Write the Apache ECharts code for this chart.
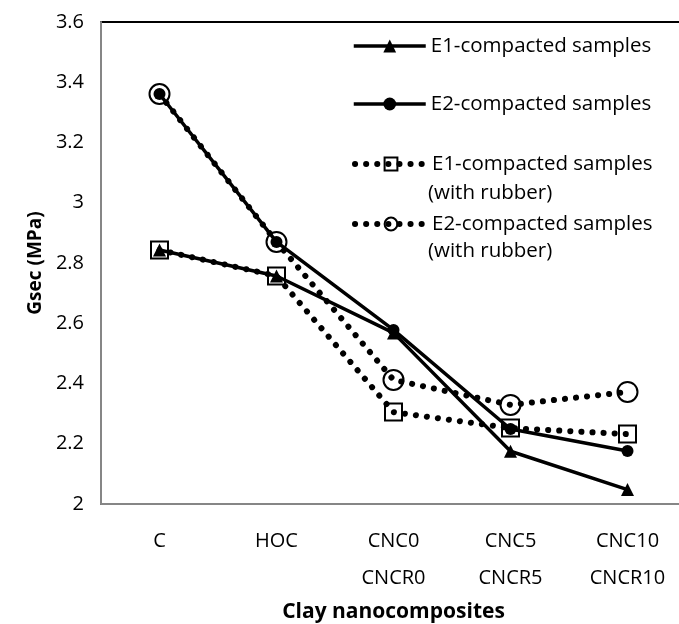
<!DOCTYPE html>
<html>
<head>
<meta charset="utf-8">
<script src="https://cdn.jsdelivr.net/npm/echarts@6/dist/echarts.min.js"></script>
<style>
  html, body { margin: 0; padding: 0; background: #fff; }
  #chart { width: 679px; height: 624px; }
</style>
</head>
<body>
<div id="chart"></div>
<script>
// categories and values
var categories = ['C', 'HOC', 'CNC0\nCNCR0', 'CNC5\nCNCR5', 'CNC10\nCNCR10'];
var e1 = [2.843, 2.757, 2.568, 2.175, 2.048];
var e2 = [3.361, 2.870, 2.578, 2.249, 2.176];
var e1Rubber = [2.843, 2.757, 2.305, 2.252, 2.232];
var e2Rubber = [3.361, 2.870, 2.412, 2.329, 2.372];

var FONT = 'Open Sans';
var dots = { color: '#000', width: 6, type: [0.1, 11], cap: 'round' };
var solid = { color: '#000', width: 3.5 };

var chart = echarts.init(document.getElementById('chart'));

function oneLegend(name, top, line) {
  return {
    data: [name],
    left: 352,
    top: top,
    padding: 0,
    itemWidth: 72,
    itemHeight: 16,
    itemGap: 0,
    selectedMode: false,
    lineStyle: line,
    textStyle: { fontFamily: FONT, fontSize: 20.5, color: '#000', lineHeight: 24 }
  };
}

var option = {
  animation: false,
  backgroundColor: '#fff',
  grid: {
    left: 101, top: 22, width: 585, height: 482,
    outerBoundsMode: 'none',
    containLabel: false,
    show: true, borderColor: '#000', borderWidth: 2
  },
  legend: [
    oneLegend('E1-compacted samples', 34, solid),
    oneLegend('E2-compacted samples', 92, solid),
    oneLegend('E1-compacted samples ', 152, dots),
    oneLegend('E2-compacted samples ', 212, dots)
  ],
  graphic: [
    { type: 'text', left: 428, top: 183, style: { text: '(with rubber)', font: '20.5px "' + FONT + '"', fill: '#000' } },
    { type: 'text', left: 428, top: 241, style: { text: '(with rubber)', font: '20.5px "' + FONT + '"', fill: '#000' } }
  ],
  xAxis: {
    type: 'category',
    data: categories,
    boundaryGap: true,
    axisLine: { lineStyle: { color: '#868686', width: 2 } },
    axisTick: { show: false },
    axisLabel: { fontFamily: FONT, fontSize: 20, color: '#000', lineHeight: 37, margin: 19, interval: 0 },
    name: 'Clay nanocomposites',
    nameLocation: 'middle',
    nameGap: 85,
    nameTextStyle: { fontFamily: FONT, fontSize: 21, fontWeight: 'bold', color: '#000' }
  },
  yAxis: {
    type: 'value',
    min: 2, max: 3.6, interval: 0.2,
    splitLine: { show: false },
    axisLine: { show: true, lineStyle: { color: '#868686', width: 2 } },
    axisTick: { show: false },
    axisLabel: { fontFamily: FONT, fontSize: 20, color: '#000', margin: 17 },
    name: 'Gsec (MPa)',
    nameLocation: 'middle',
    nameGap: 56,
    nameTextStyle: { fontFamily: FONT, fontSize: 19, fontWeight: 'bold', color: '#000' }
  },
  series: [
    {
      name: 'E2-compacted samples ',
      type: 'line', data: e2Rubber,
      lineStyle: dots,
      symbol: 'circle', symbolSize: 20,
      itemStyle: { color: 'rgba(0,0,0,0)', borderColor: '#000', borderWidth: 2 }
    },
    {
      name: 'E1-compacted samples ',
      type: 'line', data: e1Rubber,
      lineStyle: dots,
      symbol: 'rect', symbolSize: 17,
      itemStyle: { color: 'rgba(0,0,0,0)', borderColor: '#000', borderWidth: 2 }
    },
    {
      name: 'E1-compacted samples',
      type: 'line', data: e1,
      lineStyle: solid,
      symbol: 'triangle', symbolSize: 13,
      itemStyle: { color: '#000' }
    },
    {
      name: 'E2-compacted samples',
      type: 'line', data: e2,
      lineStyle: solid,
      symbol: 'circle', symbolSize: 12,
      itemStyle: { color: '#000' }
    }
  ]
};

chart.setOption(option);
</script>
</body>
</html>
